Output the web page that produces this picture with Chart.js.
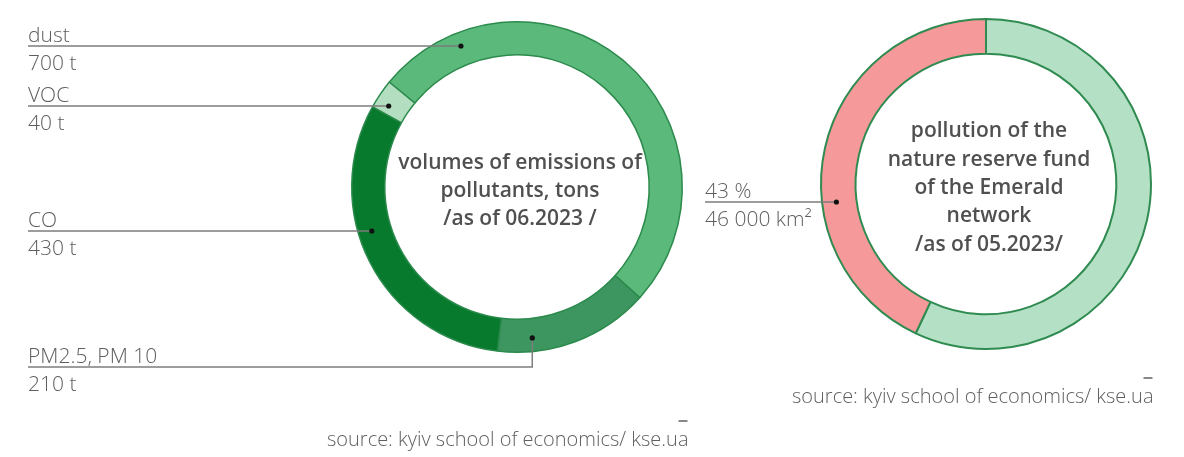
<!DOCTYPE html>
<html>
<head>
<meta charset="utf-8">
<script src="https://cdn.jsdelivr.net/npm/chart.js@4/dist/chart.umd.min.js"></script>
<style>
  html, body { margin: 0; padding: 0; background: #fff; }
  #wrap { position: relative; width: 1184px; height: 457px; }
  #wrap canvas { position: absolute; left: 0; top: 0; }
</style>
</head>
<body>
<div id="wrap">
  <canvas id="emissionsChart" width="1184" height="457"></canvas>
  <canvas id="emeraldChart" width="1184" height="457"></canvas>
</div>
<script>
// emissions of pollutants, tons (clockwise, starting with the VOC slice)
const emissionNames = ['VOC', 'dust', 'PM2.5, PM 10', 'CO'];
const emissionTons = [40, 700, 210, 430];
const emissionColors = ['#b3dfc0', '#5cb97c', '#3d9560', '#077a2d'];

// Emerald network: share of the nature reserve fund, %
const emeraldNames = ['not polluted', 'polluted'];
const emeraldShare = [57, 43];
const emeraldColors = ['#b4e0c5', '#f5999a'];
const pollutedAreaKm2 = 46000;

const emissionsTitle = ['volumes of emissions of', 'pollutants, tons', '/as of 06.2023 /'];
const emeraldTitle = ['pollution of the', 'nature reserve fund', 'of the Emerald', 'network', '/as of 05.2023/'];
const sourceText = 'source: kyiv school of economics/ kse.ua';

const FONT = '"Open Sans", "Noto Sans", sans-serif';
const LABEL_X = 28;

function spaced(n) {
    return String(n).replace(/\B(?=(\d{3})+(?!\d))/g, ' ');
}

// where a callout touches its slice
function dotFor(arc, c) {
    const r = (arc.innerRadius + arc.outerRadius) / 2 + 3;
    if (c.mode === 'elbow') {
        const a = arc.startAngle + c.t * (arc.endAngle - arc.startAngle);
        return { x: arc.x + r * Math.cos(a), y: arc.y + r * Math.sin(a) };
    }
    const dy = c.lineY - arc.y;
    return { x: arc.x - Math.sqrt(Math.max(r * r - dy * dy, 0)), y: c.lineY };
}

function drawCallouts(chart, callouts) {
    const ctx = chart.ctx;
    const arcs = chart.getDatasetMeta(0).data;
    ctx.save();
    callouts.forEach(c => {
        const dot = dotFor(arcs[c.index], c);
        ctx.strokeStyle = '#7d7d7d';
        ctx.lineWidth = 1.5;
        ctx.beginPath();
        ctx.moveTo(c.x, c.lineY);
        ctx.lineTo(dot.x, c.lineY);
        if (c.mode === 'elbow') ctx.lineTo(dot.x, dot.y);
        ctx.stroke();

        ctx.fillStyle = '#111';
        ctx.beginPath();
        ctx.arc(dot.x, dot.y, 2.6, 0, Math.PI * 2);
        ctx.fill();

        ctx.fillStyle = '#5e5e5e';
        ctx.font = '300 21px ' + FONT;
        ctx.textAlign = 'left';
        ctx.textBaseline = 'alphabetic';
        ctx.fillText(c.top, c.x, c.lineY - 4);
        ctx.fillText(c.bottom, c.x, c.lineY + 24);
    });
    ctx.restore();
}

function drawCenterTitle(chart, lines) {
    const ctx = chart.ctx;
    const arc = chart.getDatasetMeta(0).data[0];
    ctx.save();
    ctx.fillStyle = '#505050';
    ctx.font = '600 21px ' + FONT;
    ctx.textAlign = 'center';
    ctx.textBaseline = 'middle';
    const step = 28.3;
    const y0 = arc.y + 4 - step * (lines.length - 1) / 2;
    lines.forEach((l, i) => ctx.fillText(l, arc.x + 3, y0 + i * step));
    ctx.restore();
}

function drawSource(chart, x, y) {
    const ctx = chart.ctx;
    ctx.save();
    ctx.fillStyle = '#606060';
    ctx.font = '300 20px ' + FONT;
    ctx.textAlign = 'left';
    ctx.textBaseline = 'alphabetic';
    ctx.fillText(sourceText, x, y);
    const w = ctx.measureText(sourceText).width;
    ctx.strokeStyle = '#606060';
    ctx.lineWidth = 1.5;
    ctx.beginPath();
    ctx.moveTo(x + w - 10, y - 25);
    ctx.lineTo(x + w - 1, y - 25);
    ctx.stroke();
    ctx.restore();
}

const emissionCallouts = [
    { index: 1, mode: 'row', x: LABEL_X, lineY: 46, top: emissionNames[1], bottom: emissionTons[1] + ' t' },
    { index: 0, mode: 'row', x: LABEL_X, lineY: 106, top: emissionNames[0], bottom: emissionTons[0] + ' t' },
    { index: 3, mode: 'row', x: LABEL_X, lineY: 231, top: emissionNames[3], bottom: emissionTons[3] + ' t' },
    { index: 2, mode: 'elbow', t: 0.77, x: LABEL_X, lineY: 367, top: emissionNames[2], bottom: emissionTons[2] + ' t' }
];

const emeraldCallouts = [
    { index: 1, mode: 'row', x: 705, lineY: 202, top: emeraldShare[1] + ' %', bottom: spaced(pollutedAreaKm2) + ' km²' }
];

const baseOptions = {
    responsive: false,
    animation: false,
    events: [],
    plugins: { legend: { display: false }, tooltip: { enabled: false } }
};

new Chart(document.getElementById('emissionsChart').getContext('2d'), {
    type: 'doughnut',
    data: {
        labels: emissionNames,
        datasets: [{
            data: emissionTons,
            backgroundColor: emissionColors,
            borderColor: '#2b8a4c',
            borderWidth: 1.5
        }]
    },
    options: {
        ...baseOptions,
        rotation: -61,
        cutout: '80%',
        layout: { padding: { left: 351, top: 21, right: 501, bottom: 104 } }
    },
    plugins: [{
        id: 'emissionsText',
        afterDraw(chart) {
            drawCenterTitle(chart, emissionsTitle);
            drawCallouts(chart, emissionCallouts);
            drawSource(chart, 327, 446);
        }
    }]
});

new Chart(document.getElementById('emeraldChart').getContext('2d'), {
    type: 'doughnut',
    data: {
        labels: emeraldNames,
        datasets: [{
            data: emeraldShare,
            backgroundColor: emeraldColors,
            borderColor: '#2f8b50',
            borderWidth: 2
        }]
    },
    options: {
        ...baseOptions,
        rotation: 0,
        cutout: '79%',
        layout: { padding: { left: 820, top: 18, right: 32, bottom: 107 } }
    },
    plugins: [{
        id: 'emeraldText',
        afterDraw(chart) {
            drawCenterTitle(chart, emeraldTitle);
            drawCallouts(chart, emeraldCallouts);
            drawSource(chart, 792, 403);
        }
    }]
});
</script>
</body>
</html>
